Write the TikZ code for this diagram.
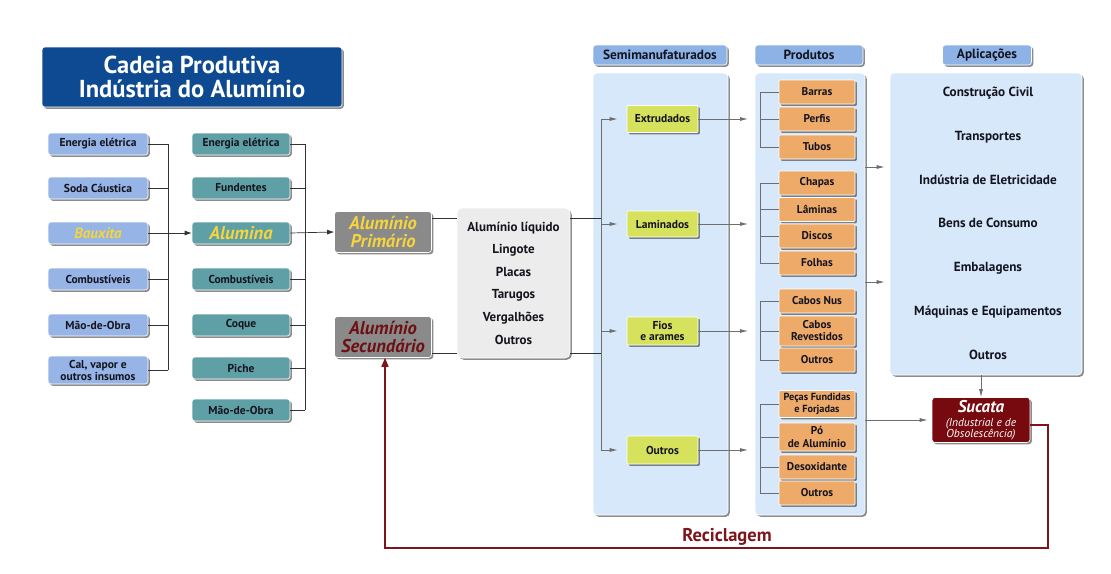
\documentclass[tikz,border=0pt]{standalone}
\usepackage{fontspec}
\setmainfont{PT Sans}
\usetikzlibrary{shadows,arrows.meta}
\definecolor{titleblue}{RGB}{13,74,145}
\definecolor{lblue}{RGB}{150,180,230}
\definecolor{teal1}{RGB}{95,160,166}
\definecolor{greybox}{RGB}{138,138,138}
\definecolor{midgrey}{RGB}{236,236,236}
\definecolor{hdrblue}{RGB}{140,178,230}
\definecolor{panelblue}{RGB}{214,232,250}
\definecolor{ygreen}{RGB}{214,226,92}
\definecolor{orangeb}{RGB}{238,170,105}
\definecolor{sucred}{RGB}{118,10,14}
\definecolor{recred}{RGB}{125,22,28}
\definecolor{yel}{RGB}{245,212,60}
\definecolor{secred}{RGB}{110,15,20}
\definecolor{arrgrey}{RGB}{110,110,110}
\definecolor{txt}{RGB}{20,20,30}
\tikzset{
 x=1pt, y=-1pt,
 shad/.style={drop shadow={shadow xshift=1.8pt, shadow yshift=-1.8pt, opacity=0.45, fill=black}},
 base/.style={rounded corners=3pt, draw=white, line width=0.6pt, align=center, text=txt,
   font=\bfseries\fontsize{11.5}{12}\selectfont, inner sep=0.5pt, shad},
 col1/.style={base, fill=lblue, minimum width=100pt, minimum height=22pt},
 col2/.style={base, fill=teal1, minimum width=98pt, minimum height=22pt},
 big/.style={font=\bfseries\itshape\fontsize{15}{15}\selectfont, text=yel},
 alu/.style={base, fill=greybox, minimum width=97pt, minimum height=41pt, font=\bfseries\itshape\fontsize{18.5}{17.5}\selectfont},
 hdr/.style={base, fill=hdrblue, minimum height=20pt, font=\bfseries\fontsize{13.3}{13}\selectfont},
 panel/.style={rounded corners=4pt, fill=panelblue, draw=white, line width=0.6pt, shad},
 semib/.style={base, rounded corners=1pt, fill=ygreen, minimum width=71pt, font=\bfseries\fontsize{11.5}{11}\selectfont},
 prodb/.style={base, rounded corners=1pt, fill=orangeb, minimum width=76pt, minimum height=24pt, font=\bfseries\fontsize{11.3}{12}\selectfont},
 ln/.style={draw=black!80, line width=0.7pt},
 arrk/.style={ln, -{Latex[length=7pt,width=5pt]}},
 ga/.style={draw=arrgrey, line width=0.8pt},
 garr/.style={ga, -{Latex[length=8pt,width=4pt]}},
 apt/.style={font=\bfseries\fontsize{13.2}{14}\selectfont, text=txt},
 rec/.style={draw=recred, line width=1.5pt},
}
\begin{document}
\begin{tikzpicture}
\useasboundingbox (0,0) rectangle (1111,573);
\fill[white] (0,0) rectangle (1111,573);
% title
\node[rounded corners=3pt, fill=titleblue, draw=white, line width=0.6pt, shad,
  minimum width=300pt, minimum height=60pt, align=center, text=white,
  font=\bfseries\fontsize{24.5}{23.5}\selectfont] (title) at (192,77) {Cadeia Produtiva\\Indústria do Alumínio};
% column 1
\node[col1] (e1) at (98,144) {Energia elétrica};
\node[col1] (soda) at (98,188) {Soda Cáustica};
\node[col1, big] (baux) at (98,233) {Bauxita};
\node[col1] (comb1) at (98,279) {Combustíveis};
\node[col1] (mao1) at (98,325) {Mão-de-Obra};
\node[col1, minimum height=28pt, font=\bfseries\fontsize{11.5}{12}\selectfont] (cal) at (98,370) {Cal, vapor e\\outros insumos};
% column 2
\node[col2] (e2) at (241,144) {Energia elétrica};
\node[col2] (fund) at (241,188) {Fundentes};
\node[col2, big, font=\bfseries\itshape\fontsize{18.5}{18}\selectfont] (alum) at (241,233) {Alumina};
\node[col2] (comb2) at (241,279) {Combustíveis};
\node[col2] (coque) at (241,325) {Coque};
\node[col2] (piche) at (241,368) {Piche};
\node[col2] (mao2) at (241,410) {Mão-de-Obra};
% connectors left
\coordinate (v1) at (168,0);
\coordinate (v2) at (305,0);
\foreach \n in {e1,soda,comb1,mao1,cal} \draw[ln] (\n.east) -- (\n.east -| v1);
\draw[ln] (e1.east -| v1) -- (cal.east -| v1);
\draw[arrk] (baux.east) -- (alum.west);
\foreach \n in {e2,fund,comb2,coque,piche,mao2} \draw[ln] (\n.east) -- (\n.east -| v2);
\draw[ln] (e2.east -| v2) -- (mao2.east -| v2);
% aluminio
\node[alu, text=yel] (prim) at (383,232) {Alumínio\\Primário};
\node[alu, text=secred] (sec) at (383,337) {Alumínio\\Secundário};
\draw[arrk] (alum.east) -- (prim.west);
\node[base, fill=midgrey, rounded corners=5pt, minimum width=113pt, minimum height=150pt,
  font=\bfseries\fontsize{13}{22.6}\selectfont] (mid) at (513.5,283)
  {Alumínio líquido\\Lingote\\Placas\\Tarugos\\Vergalhões\\Outros};
\coordinate (ly1) at (0,218);
\coordinate (ly2) at (0,353);
\coordinate (vs) at (601,0);
\draw[ln] (prim.east |- ly1) -- (mid.west |- ly1);
\draw[ln] (sec.east |- ly2) -- (mid.west |- ly2);
% headers and panels
\node[hdr, minimum width=134pt] (hs) at (660,55) {Semimanufaturados};
\node[hdr, minimum width=108pt] (hp) at (809,55) {Produtos};
\node[hdr, minimum width=89pt] (ha) at (987,55) {Aplicações};
\node[panel, minimum width=135pt, minimum height=442pt] (span) at (660.5,294) {};
\node[panel, minimum width=110pt, minimum height=442pt] (ppan) at (810,294) {};
\node[panel, minimum width=192pt, minimum height=302pt] (apan) at (986,224) {};
\draw[ln] (mid.east |- ly1) -- (ly1 -| vs);
\draw[ln] (mid.east |- ly2) -- (ly2 -| vs);
% semimanufaturados
\node[semib, minimum height=27pt] (ext) at (662.5,119) {Extrudados};
\node[semib, minimum height=26pt] (lam) at (662.5,224) {Laminados};
\node[semib, minimum height=28pt] (fios) at (662.5,331) {Fios\\e arames};
\node[semib, minimum height=28pt] (sout) at (662.5,450) {Outros};
\draw[ga] (ext.west -| vs) -- (sout.west -| vs);
\foreach \n in {ext,lam,fios,sout} \draw[garr, shorten >=9pt] (\n.west -| vs) -- (\n.west);
% produtos
\node[prodb] (barras) at (817,92) {Barras};
\node[prodb] (perfis) at (817,119) {Perfis};
\node[prodb] (tubos) at (817,147) {Tubos};
\node[prodb] (chapas) at (817,183) {Chapas};
\node[prodb] (laminas) at (817,209.5) {Lâminas};
\node[prodb] (discos) at (817,236) {Discos};
\node[prodb] (folhas) at (817,263) {Folhas};
\node[prodb] (cnus) at (817,301) {Cabos Nus};
\node[prodb, minimum height=30pt] (crev) at (817,331) {Cabos\\Revestidos};
\node[prodb] (pout1) at (817,360) {Outros};
\node[prodb, minimum height=27pt, font=\bfseries\fontsize{10.3}{11.5}\selectfont] (pecas) at (817,404) {Peças Fundidas\\e Forjadas};
\node[prodb, minimum height=28pt, font=\bfseries\fontsize{11.3}{13}\selectfont] (po) at (817,437) {Pó\\de Alumínio};
\node[prodb] (desox) at (817,467) {Desoxidante};
\node[prodb] (pout2) at (817,493) {Outros};
\coordinate (vp) at (760,0);
\foreach \a/\b in {barras/tubos,chapas/folhas,cnus/pout1,pecas/pout2} \draw[ga] (\a.west -| vp) -- (\b.west -| vp);
\foreach \n in {barras,perfis,tubos,chapas,laminas,discos,folhas,cnus,crev,pout1,pecas,po,desox,pout2} \draw[ga] (\n.west -| vp) -- (\n.west);
\draw[garr, shorten >=12pt] (ext.east) -- (ext.east -| vp);
\draw[garr, shorten >=12pt] (lam.east) -- (lam.east -| vp);
\draw[garr, shorten >=12pt] (fios.east) -- (fios.east -| vp);
\draw[garr, shorten >=12pt] (sout.east) -- (sout.east -| vp);
% aplicacoes
\node[apt] (a1) at (988,93) {Construção Civil};
\node[apt] (a2) at (988,137) {Transportes};
\node[apt] (a3) at (988,180) {Indústria de Eletricidade};
\node[apt] (a4) at (988,223) {Bens de Consumo};
\node[apt] (a5) at (988,268) {Embalagens};
\node[apt] (a6) at (988,312) {Máquinas e Equipamentos};
\node[apt] (a7) at (988,355) {Outros};
\coordinate (ya1) at (0,167);
\coordinate (ya2) at (0,282);
\draw[garr, shorten >=5pt] (ppan.east |- ya1) -- (apan.west |- ya1);
\draw[garr, shorten >=5pt] (ppan.east |- ya2) -- (apan.west |- ya2);
% sucata
\node[base, fill=sucred, minimum width=98pt, minimum height=45pt, text=white, font=\fontsize{11.5}{11}\selectfont] (suc) at (981,420)
  {{\bfseries\itshape\fontsize{17}{15}\selectfont Sucata}\\[3pt]\itshape (Industrial e de\\\itshape Obsolescência)};
\draw[garr, shorten >=4pt] (ppan.east |- suc.west) -- (suc.west);
\draw[garr] (suc.north |- apan.south) -- (suc.north);
% reciclagem
\coordinate (r1) at (1048,425);
\coordinate (r2) at (1048,548);
\coordinate (r3) at (385,548);
\draw[rec, -{Triangle[length=9pt,width=7pt]}] (suc.east |- r1) -- (r1) -- (r2) -- (r3) -- (r3 |- sec.south);
\node[font=\bfseries\fontsize{18.5}{19}\selectfont, text=recred] (recl) at (727,537) {Reciclagem};
\end{tikzpicture}
\end{document}
